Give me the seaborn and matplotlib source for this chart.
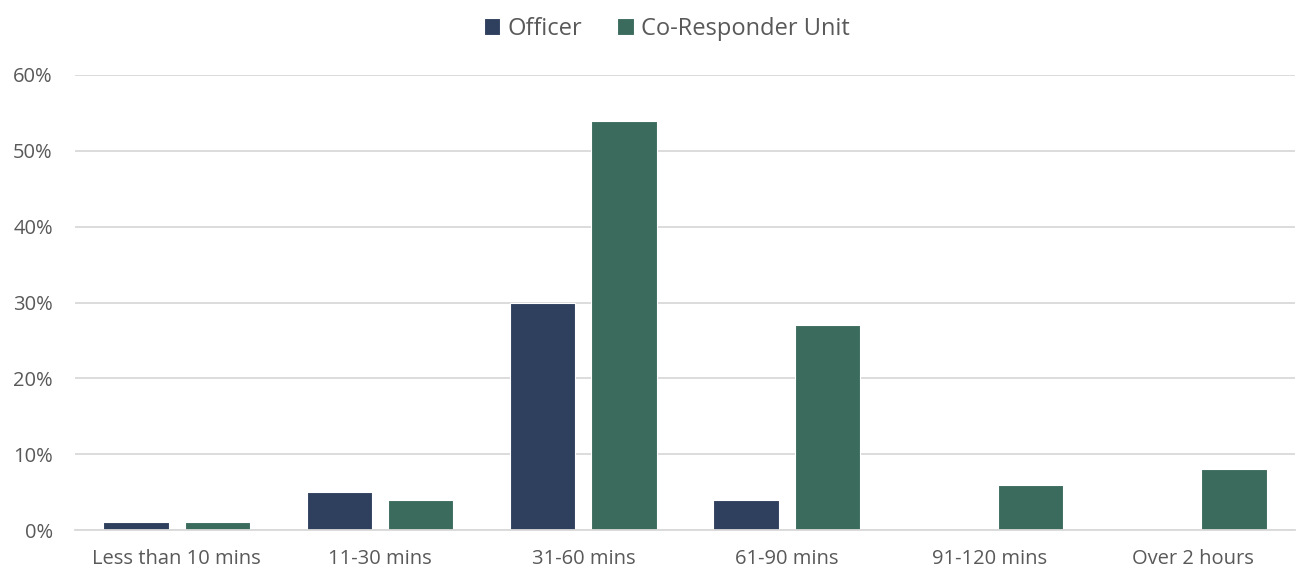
import matplotlib
matplotlib.use("Agg")
import matplotlib.pyplot as plt
import seaborn as sns
import pandas as pd
from matplotlib.ticker import FuncFormatter

categories = ["Less than 10 mins", "11-30 mins", "31-60 mins", "61-90 mins", "91-120 mins", "Over 2 hours"]
officer = [1, 5, 30, 4, 0, 0]
co_responder = [1, 4, 54, 27, 6, 8]
series_names = ["Officer", "Co-Responder Unit"]
colors = ["#2F3F5E", "#3B6B5D"]

df = pd.DataFrame({
    "category": categories * 2,
    "value": officer + co_responder,
    "series": [series_names[0]] * len(categories) + [series_names[1]] * len(categories),
})

sns.set_style("white")
plt.rcParams["font.family"] = ["Open Sans", "DejaVu Sans"]

fig = plt.figure(figsize=(13.09, 5.71), dpi=100)
ax = fig.add_axes([75 / 1309, 41 / 571, 1220 / 1309, 455 / 571])

sns.barplot(data=df, x="category", y="value", hue="series", order=categories,
            hue_order=series_names, palette=colors, saturation=1, width=0.8, gap=0.2,
            edgecolor="white", linewidth=0.8, ax=ax, legend=True)

ax.set_ylim(0, 60)
ax.set_yticks(range(0, 61, 10))
ax.yaxis.set_major_formatter(FuncFormatter(lambda v, p: f"{int(v)}%"))
ax.grid(axis="y", color="#D9D9D9", linewidth=1.3)
ax.set_axisbelow(True)
for s in ["top", "right", "left"]:
    ax.spines[s].set_visible(False)
ax.spines["bottom"].set_color("#D9D9D9")
ax.spines["bottom"].set_linewidth(1.3)
ax.set_xlabel("")
ax.set_ylabel("")
ax.tick_params(axis="both", length=0, labelsize=14.5, labelcolor="#595959")
ax.tick_params(axis="y", pad=16)
ax.tick_params(axis="x", pad=14)
ax.set_xlim(-0.5, len(categories) - 0.5)

leg = ax.legend(loc="upper center", bbox_to_anchor=(0.485, 1.175), ncol=2, frameon=False,
                fontsize=17, handlelength=0.7, handleheight=0.7, handletextpad=0.3,
                columnspacing=1.5)
for t in leg.get_texts():
    t.set_color("#595959")

fig.savefig("out.png", dpi=100)
